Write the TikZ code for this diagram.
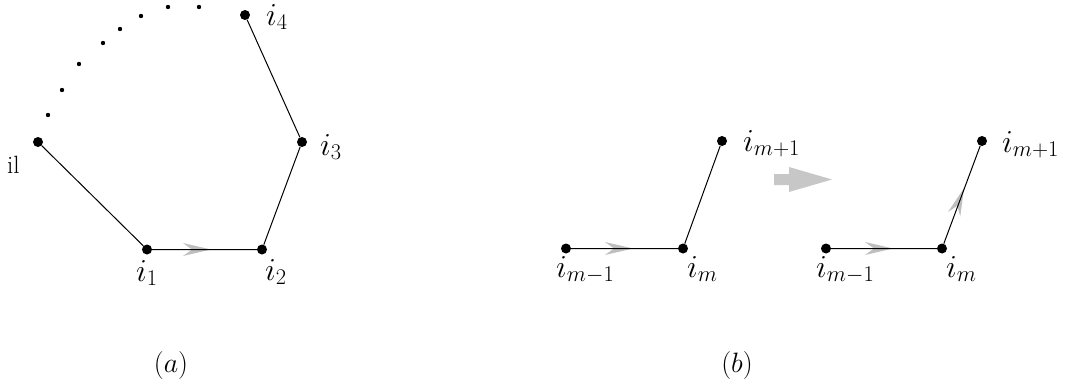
\RequirePackage{fix-cm}
\documentclass[tikz,border=0pt]{standalone}
\usetikzlibrary{calc}
\newcommand\lblfont{\fontsize{32pt}{38pt}\selectfont}
\newcommand\capfont{\fontsize{28pt}{34pt}\selectfont}
\newcommand\ilfont{\fontsize{25pt}{30pt}\selectfont}
\begin{document}
\begin{tikzpicture}[x=1pt,y=-1pt,
  vtx/.style={circle,fill=black,inner sep=0pt,minimum size=10pt},
  edge/.style={line width=1pt,black},
  lbl/.style={anchor=base west,inner sep=0pt},
  captext/.style={anchor=base,inner sep=0pt},
  garrow/.pic={\fill[black!25] (0,0) -- (-28,6.5) -- (-19,0) -- (-28,-6.5) -- cycle;}]
\useasboundingbox (0,0) rectangle (1068,391);
% (a)
\node[vtx] (l) at (38,142) {};
\node[vtx] (a1) at (147,249.5) {};
\node[vtx] (a2) at (262,249.5) {};
\node[vtx] (a3) at (302,142) {};
\node[vtx] (a4) at (245,15) {};
\foreach \p in {(48,115),(62,90),(79,64),(103,43),(120,29),(141,16),(168,7),(199,7)}
  \fill \p circle (2.2);
\pic at (211,249.5) {garrow};
\draw[edge] (l) -- (a1) -- (a2) -- (a3) -- (a4);
\node[lbl] at (7,173) {\ilfont il};
\node[lbl] at (136,281) {\lblfont $i_1$};
\node[lbl] at (265,280) {\lblfont $i_2$};
\node[lbl] at (320,155) {\lblfont $i_3$};
\node[lbl] at (266,25) {\lblfont $i_4$};
\node[captext] at (171,372) {\capfont $(a)$};
% (b) left
\node[vtx] (b1) at (566,248.5) {};
\node[vtx] (b2) at (683,248.5) {};
\node[vtx] (b3) at (722,141) {};
\pic at (633,248.5) {garrow};
\draw[edge] (b1) -- (b2) -- (b3);
\node[lbl] at (556,277) {\lblfont $i_{m-1}$};
\node[lbl] at (687,277) {\lblfont $i_m$};
\node[lbl] at (743,151) {\lblfont $i_{m+1}$};
% big arrow
\fill[black!22] (774,174) -- (789,174) -- (789,167) -- (832,179.5) -- (789,192) -- (789,185) -- (774,185) -- cycle;
% (b) right
\node[vtx] (c1) at (826,248.5) {};
\node[vtx] (c2) at (942,248.5) {};
\node[vtx] (c3) at (982,141) {};
\pic at (893,248.5) {garrow};
\pic[rotate=69.5] at (964,188) {garrow};
\draw[edge] (c1) -- (c2) -- (c3);
\node[lbl] at (816,277) {\lblfont $i_{m-1}$};
\node[lbl] at (946,277) {\lblfont $i_m$};
\node[lbl] at (1002,152) {\lblfont $i_{m+1}$};
\node[captext] at (737,372) {\capfont $(b)$};
\end{tikzpicture}
\end{document}
